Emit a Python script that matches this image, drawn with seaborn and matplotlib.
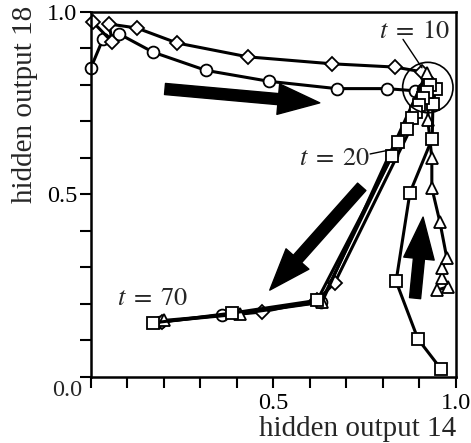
import matplotlib
matplotlib.use("Agg")
import matplotlib.pyplot as plt
import seaborn as sns
import numpy as np
from matplotlib.patches import Circle

# trajectories in (hidden output 14, hidden output 18)
circ_x = [0.0, 0.033, 0.077, 0.17, 0.315, 0.488, 0.673, 0.81, 0.888, 0.91, 0.92, 0.825, 0.63, 0.359, 0.19]
circ_y = [0.847, 0.926, 0.94, 0.89, 0.84, 0.81, 0.79, 0.79, 0.784, 0.79, 0.80, 0.608, 0.205, 0.17, 0.15]

diam_x = [0.005, 0.058, 0.05, 0.126, 0.236, 0.43, 0.66, 0.833, 0.907, 0.925, 0.93, 0.668, 0.62, 0.468, 0.195]
diam_y = [0.973, 0.918, 0.967, 0.956, 0.915, 0.877, 0.858, 0.849, 0.836, 0.81, 0.79, 0.258, 0.21, 0.178, 0.152]

sq_x = [0.959, 0.896, 0.836, 0.874, 0.935, 0.937, 0.945, 0.93, 0.92, 0.91, 0.90, 0.89, 0.879, 0.866, 0.841,
        0.825, 0.62, 0.386, 0.17]
sq_y = [0.022, 0.104, 0.262, 0.505, 0.653, 0.749, 0.79, 0.80, 0.78, 0.765, 0.745, 0.725, 0.71, 0.68, 0.644,
        0.605, 0.21, 0.175, 0.148]

tri_x = [0.948, 0.978, 0.962, 0.962, 0.975, 0.956, 0.934, 0.934, 0.923, 0.925, 0.92, 0.633, 0.408, 0.20]
tri_y = [0.238, 0.247, 0.271, 0.299, 0.326, 0.425, 0.518, 0.60, 0.704, 0.78, 0.833, 0.205, 0.173, 0.155]

tick_pos = [0.0, 0.1, 0.2, 0.3, 0.4, 0.5, 0.6, 0.7, 0.8, 0.9, 1.0]
tick_lab = ["", "", "", "", "", "0.5", "", "", "", "", "1.0"]

sns.set_style("ticks")
plt.rcParams['font.family'] = ['Liberation Serif', 'DejaVu Serif']
plt.rcParams['mathtext.fontset'] = 'stix'

fig = plt.figure(figsize=(4.71, 4.43), dpi=100)
ax = fig.add_axes([0.193, 0.149, 0.775, 0.824])

common = dict(sort=False, estimator=None, color='black', lw=2.2, markersize=8.5,
              markerfacecolor='white', markeredgecolor='black', markeredgewidth=1.3,
              clip_on=False, ax=ax)
sns.lineplot(x=circ_x, y=circ_y, marker='o', **common)
sns.lineplot(x=diam_x, y=diam_y, marker='D', **{**common, 'markersize': 7.5})
sns.lineplot(x=tri_x, y=tri_y, marker='^', **common)
sns.lineplot(x=sq_x, y=sq_y, marker='s', **common)

ax.set_xlim(0, 1)
ax.set_ylim(0, 1)
ax.set_xticks(tick_pos, tick_lab)
ax.set_yticks(tick_pos, tick_lab)
ax.tick_params(direction='out', length=8, width=1.5, labelsize=17.5, colors='black')
ax.tick_params(axis='x', pad=3.5)
ax.tick_params(axis='y', pad=2)
for s in ax.spines.values():
    s.set_linewidth(1.8)
    s.set_color('black')
ax.annotate("0.0", xy=(0, 0), xytext=(-6, -2), textcoords='offset points',
            ha='right', va='top', fontsize=17.5)

ax.set_xlabel("hidden output 14", fontsize=21, loc='right')
ax.xaxis.set_label_coords(1.0, -0.108)
ax.set_ylabel("hidden output 18", fontsize=21, loc='top')
ax.yaxis.set_label_coords(-0.145, 1.016)

# cluster circle and time labels
ax.add_patch(Circle((0.923, 0.793), 0.069, fill=False, lw=1.2, color='black', zorder=5))
ax.text(0.79, 0.93, r"$t\;=\;10$", fontsize=19, ha='left', va='baseline')
ax.plot([0.855, 0.907], [0.925, 0.847], color='black', lw=1.0)
ax.text(0.765, 0.581, r"$t\;=\;20$", fontsize=19, ha='right', va='baseline')
ax.plot([0.765, 0.819], [0.611, 0.622], color='black', lw=1.0)
ax.text(0.071, 0.197, r"$t\;=\;70$", fontsize=19, ha='left', va='baseline')

arrow = dict(arrowstyle='simple,head_length=1.5,head_width=1.1,tail_width=0.4',
             fc='black', ec='black', mutation_scale=20, shrinkA=0, shrinkB=0)
ax.annotate("", xy=(0.627, 0.751), xytext=(0.203, 0.789), arrowprops=arrow)
ax.annotate("", xy=(0.49, 0.238), xytext=(0.742, 0.521), arrowprops=arrow)
ax.annotate("", xy=(0.91, 0.438), xytext=(0.888, 0.216), arrowprops=arrow)

fig.savefig("out.png", dpi=100)
